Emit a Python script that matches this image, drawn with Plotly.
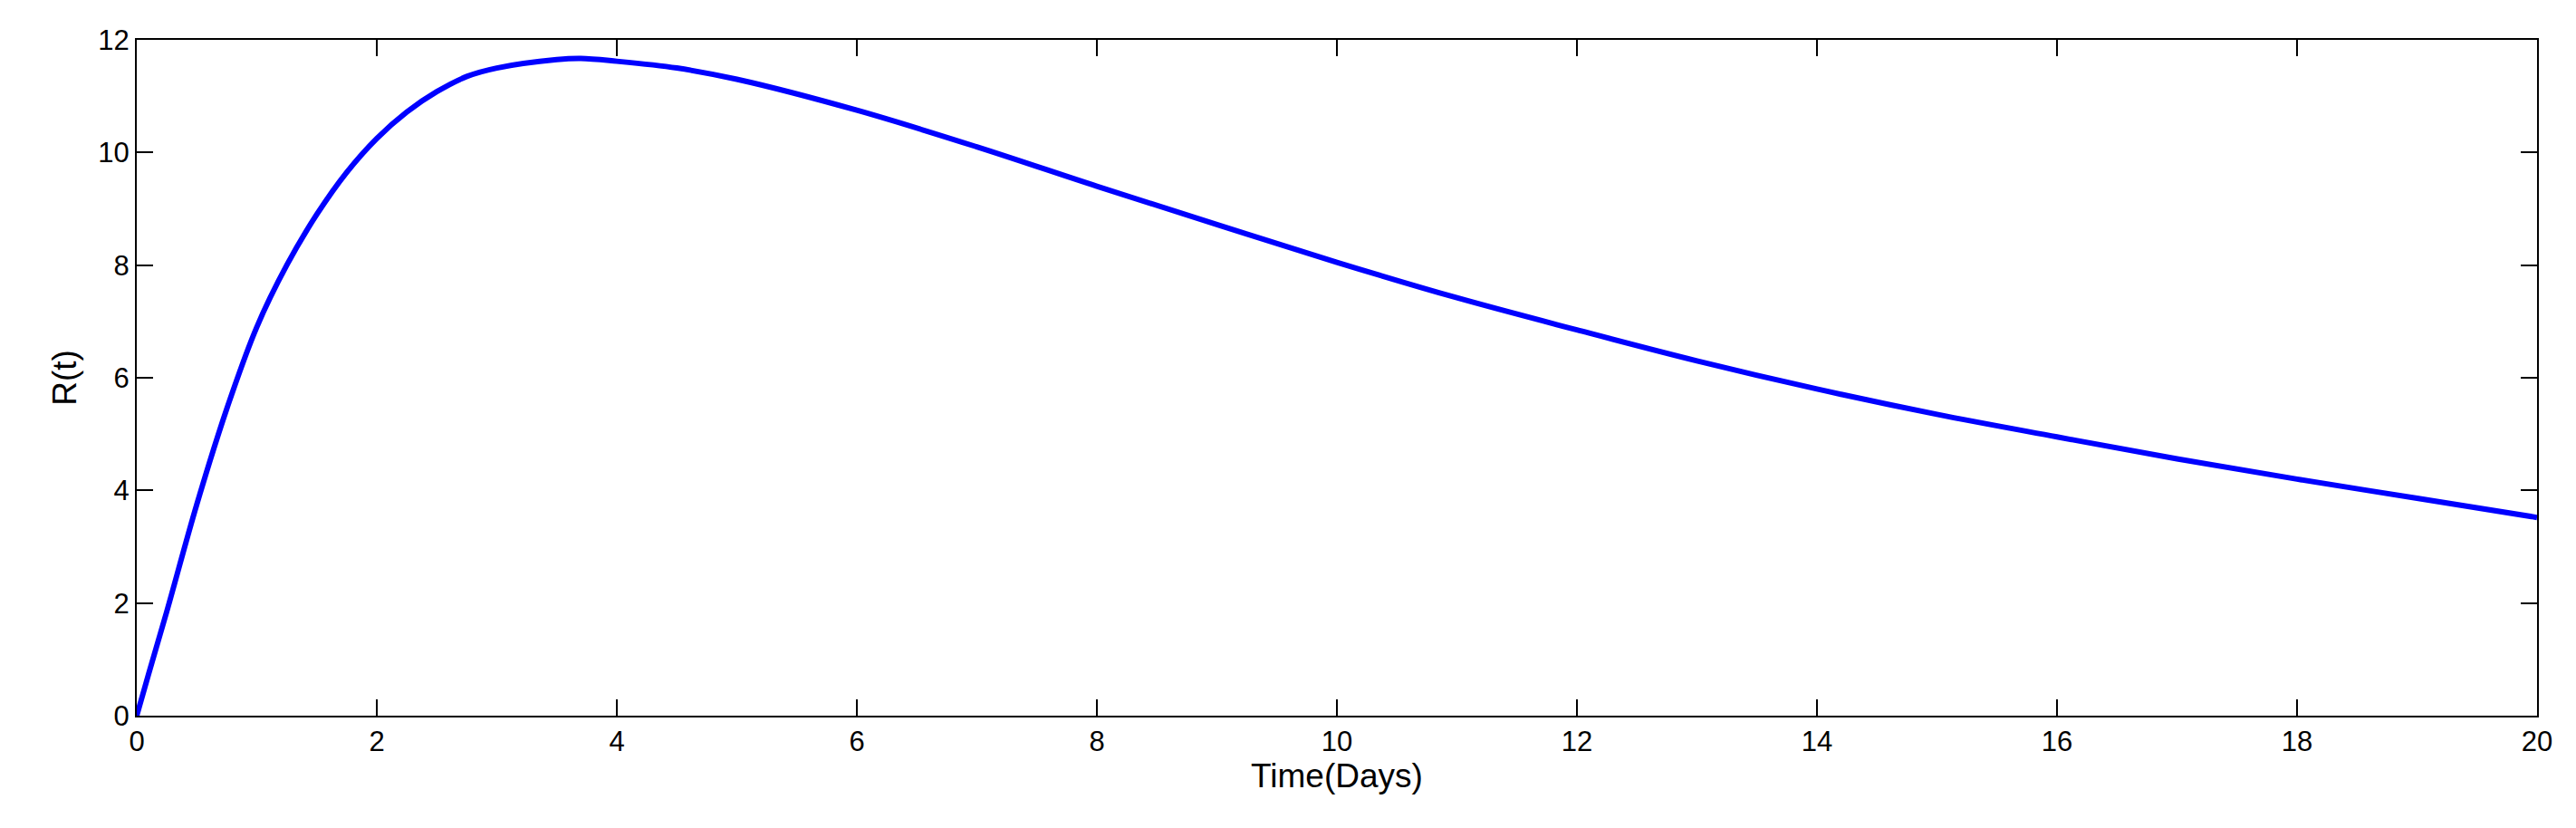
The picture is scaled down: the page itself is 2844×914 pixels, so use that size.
import plotly.graph_objects as go

t = [0, 0.1, 0.25, 0.5, 0.75, 1, 1.25, 1.5, 1.75, 2, 2.25, 2.5, 2.75, 3, 3.5, 3.7, 4, 4.5, 5, 6, 7, 8, 9, 10, 11, 12, 13, 14, 15, 16, 17, 18, 19, 20]
R = [0, 0.75, 1.85, 3.75, 5.45, 6.9, 8.0, 8.9, 9.65, 10.25, 10.72, 11.08, 11.35, 11.5, 11.65, 11.67, 11.62, 11.5, 11.3, 10.75, 10.1, 9.4, 8.72, 8.05, 7.42, 6.85, 6.3, 5.8, 5.35, 4.95, 4.56, 4.2, 3.86, 3.52]
xticks = list(range(0, 21, 2))
yticks = list(range(0, 13, 2))

fig = go.Figure(go.Scatter(x=t, y=R, mode="lines", line=dict(color="#0000ff", width=6, shape="spline")))
ax = dict(showline=True, linecolor="black", linewidth=2, mirror="ticks", ticks="inside", ticklen=18,
          tickwidth=1.5, tickcolor="black", showgrid=False, zeroline=False)
fig.update_xaxes(range=[0, 20], tickvals=xticks, title=dict(text="Time(Days)", standoff=6), **ax)
fig.update_yaxes(range=[0, 12], tickvals=yticks, title=dict(text="R(t)", standoff=12), **ax)
fig.update_layout(width=2844, height=914, margin=dict(l=143, r=51, t=36, b=132),
                  plot_bgcolor="white", paper_bgcolor="white", showlegend=False,
                  font=dict(family="Liberation Sans, Arial", size=31, color="black"))
fig.write_html("out.html")
